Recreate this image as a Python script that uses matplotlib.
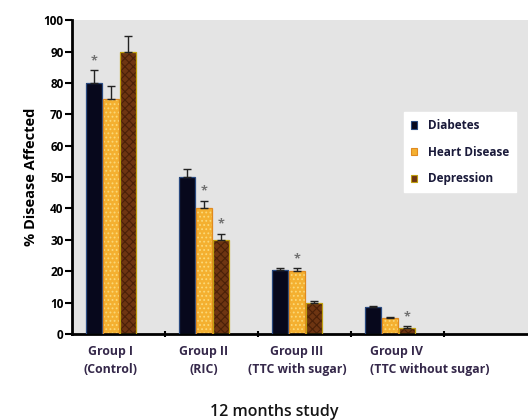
import numpy as np
import matplotlib
matplotlib.use('Agg')
import matplotlib.pyplot as plt

groups = ['Group I\n(Control)', 'Group II\n(RIC)', 'Group III\n(TTC with sugar)', 'Group IV\n(TTC without sugar)']
series = ['Diabetes', 'Heart Disease', 'Depression']
diabetes = [80, 50, 20.5, 8.5]
heart = [75, 40, 20, 5]
depression = [90, 30, 10, 2]
diabetes_err = [4, 2.5, 0.5, 0.3]
heart_err = [4, 2.5, 1, 0.3]
depression_err = [5, 2, 0.5, 0.5]
# significance markers: (group index, series index)
stars = [(0, 0), (1, 1), (1, 2), (2, 1), (3, 2)]

plt.rcParams['font.family'] = ['Open Sans', 'DejaVu Sans']
plt.rcParams['hatch.linewidth'] = 0.8

fig = plt.figure(figsize=(5.28, 4.2), dpi=100)
ax = fig.add_axes([0.136, 0.205, 0.864, 0.747])
ax.set_facecolor('#e4e4e4')

x = np.arange(len(groups))
w = 0.172
step = 0.183
vals = [diabetes, heart, depression]
errs = [diabetes_err, heart_err, depression_err]
styles = [
    dict(color='#07081c', hatchcol='#07081c', edgecolor='#2a4a80', hatch=None),
    dict(color='#f4b030', hatchcol='#fbd878', edgecolor='#e08a20', hatch='....'),
    dict(color='#6e3512', hatchcol='#4a2008', edgecolor='#c0a010', hatch='xxxx'),
]
for k in range(3):
    st = styles[k]
    xs = x + (k - 1) * step
    up = [np.zeros(len(groups)), errs[k]]
    ax.bar(xs, vals[k], w, color=st['color'], edgecolor=st['hatchcol'],
           hatch=st['hatch'], linewidth=0, zorder=2)
    ax.bar(xs, vals[k], w, yerr=up, fill=False, edgecolor=st['edgecolor'],
           linewidth=0.9, zorder=3,
           error_kw=dict(ecolor='#222222', elinewidth=1, capsize=3, capthick=1))

for g, s in stars:
    ax.text(x[g] + (s - 1) * step, vals[s][g] + errs[s][g] + 3, '*', ha='center',
            va='center', fontsize=9, color='#707070', weight='bold')

ax.set_xlim(-0.42, 4.48)
ax.set_ylim(0, 100)
ax.set_yticks(np.arange(0, 101, 10))
ax.set_xticks(x + 0.58)
ax.set_xticklabels([])
ax.tick_params(axis='x', length=4, width=1.5, direction='inout')
ax.tick_params(axis='y', length=5, width=1.5, labelsize=8.5, pad=1)
for lab in ax.get_yticklabels():
    lab.set_fontweight('bold')

# group labels under the axis; the last one runs to the right
for i, name in enumerate(groups):
    last = i == len(groups) - 1
    ax.annotate(name, xy=(x[i] - 0.22 if last else x[i], 0), xycoords=('data', 'axes fraction'),
                xytext=(0, -8), textcoords='offset points', ha='left' if last else 'center',
                va='top', multialignment='left' if last else 'center', fontsize=8.8,
                weight='bold', color='#35284a', linespacing=1.5)

for sp in ['top', 'right']:
    ax.spines[sp].set_visible(False)
ax.spines['left'].set_linewidth(2)
ax.spines['bottom'].set_linewidth(2)

ax.set_ylabel('% Disease Affected', fontsize=10.5, weight='bold', labelpad=4)
fig.text(274 / 528, 1 - 412 / 420, '12 months study', ha='center', va='center',
         fontsize=11.5, weight='semibold', color='#151515')

handles = [plt.Rectangle((0, 0), 1, 1, fc=styles[k]['color'], ec=styles[k]['edgecolor'],
                         lw=0.8) for k in range(3)]
leg = ax.legend(handles, series, loc='upper left', bbox_to_anchor=(0.728, 0.707),
                frameon=True, fancybox=False, edgecolor='white', framealpha=1,
                prop=dict(size=8.5, weight='bold'), handlelength=0.55, handleheight=0.55,
                labelspacing=1.15, handletextpad=0.9, borderpad=0.6, borderaxespad=0)
for t in leg.get_texts():
    t.set_color('#1a1a3a')

fig.savefig('out.png', dpi=100, facecolor='white')
